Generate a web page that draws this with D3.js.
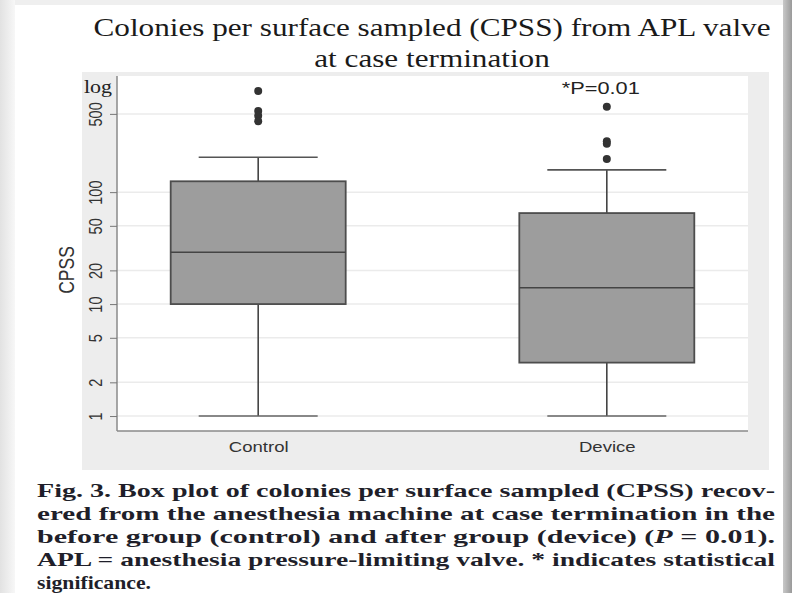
<!DOCTYPE html>
<html>
<head>
<meta charset="utf-8">
<script src="https://cdn.jsdelivr.net/npm/d3@7"></script>
<style>
  body { margin: 0; background: #ececec; }
  svg { display: block; }
</style>
</head>
<body>
<script>
// canvas
var width = 792;
var height = 593;

// data
var groups = ["Control", "Device"];
var whiskerLow = [1, 1];
var q1 = [10, 3];
var median = [29, 14];
var q3 = [125, 65];
var whiskerHigh = [205, 158];
var outliers = [
  [800, 530, 480, 430],
  [580, 285, 270, 198]
];
var yTicks = [1, 2, 5, 10, 20, 50, 100, 500];

var titleLines = ["Colonies per surface sampled (CPSS) from APL valve", "at case termination"];
var captionLines = [
  "Fig. 3. Box plot of colonies per surface sampled (CPSS) recov-",
  "ered from the anesthesia machine at case termination in the",
  "before group (control) and after group (device) (P = 0.01).",
  "APL = anesthesia pressure-limiting valve. * indicates statistical",
  "significance."
];

var plot = {left: 117, right: 748, top: 76, bottom: 431};
var sx = 1.28; // the source picture is stretched sideways
var sans = "Liberation Sans, Arial, sans-serif";
var serif = "Liberation Serif, Times New Roman, serif";

var svg = d3.select("body").append("svg")
  .attr("width", width)
  .attr("height", height);

// page / card look
var defs = svg.append("defs");
var lg = defs.append("linearGradient").attr("id", "shadeL");
lg.append("stop").attr("offset", "0").attr("stop-color", "#e2e2e2");
lg.append("stop").attr("offset", "1").attr("stop-color", "#f7f7f7");
var rg = defs.append("linearGradient").attr("id", "shadeR");
rg.append("stop").attr("offset", "0").attr("stop-color", "#c8c8c8");
rg.append("stop").attr("offset", "1").attr("stop-color", "#9a9a9a");

svg.append("rect").attr("width", width).attr("height", height).attr("fill", "#efefef");
svg.append("rect").attr("x", 0).attr("y", 0).attr("width", 15).attr("height", height).attr("fill", "url(#shadeL)");
svg.append("rect").attr("x", 783).attr("y", 0).attr("width", 9).attr("height", height).attr("fill", "url(#shadeR)");
svg.append("rect").attr("x", 15).attr("y", 5).attr("width", 768).attr("height", height - 5).attr("fill", "#fff");

// chart background
svg.append("rect").attr("x", 82).attr("y", 72).attr("width", 769 - 82).attr("height", 470 - 72).attr("fill", "#ededed");
svg.append("rect").attr("x", plot.left).attr("y", plot.top)
  .attr("width", plot.right - plot.left).attr("height", plot.bottom - plot.top).attr("fill", "#fff");

// scales
var y = d3.scaleLog().domain([0.735, 1090]).range([plot.bottom, plot.top]);
var x = d3.scalePoint().domain(groups).range([plot.left, plot.right]).padding(0.405);

// gridlines
svg.append("g").selectAll("line").data(yTicks).join("line")
  .attr("x1", plot.left).attr("x2", plot.right)
  .attr("y1", d => y(d)).attr("y2", d => y(d))
  .attr("stroke", "#ebebeb").attr("stroke-width", 1.5);

// y axis
var yAxis = d3.axisLeft(y).tickValues(yTicks).tickFormat(d3.format("d")).tickSize(7).tickPadding(4);
var gy = svg.append("g").attr("transform", `translate(${plot.left},0)`).call(yAxis);
gy.select(".domain").attr("stroke", "#8a8a8a").attr("stroke-width", 1.5)
  .attr("d", `M0,${plot.top}V${plot.bottom}`);
gy.selectAll(".tick line").attr("stroke", "#777");
gy.selectAll(".tick text")
  .attr("font-family", sans).attr("font-size", 14.5).attr("fill", "#333")
  .attr("x", 0).attr("dy", 0).attr("y", 0).attr("text-anchor", "middle")
  .attr("transform", `translate(-15,0) scale(${sx},1) rotate(-90)`);

// x axis
var xAxis = d3.axisBottom(x).tickSize(0).tickPadding(13);
var gx = svg.append("g").attr("transform", `translate(0,${plot.bottom})`).call(xAxis);
gx.select(".domain").attr("stroke", "#8a8a8a").attr("stroke-width", 1.5)
  .attr("d", `M${plot.left},0H${plot.right}`);
gx.selectAll(".tick text")
  .attr("font-family", sans).attr("font-size", 14.5).attr("fill", "#333")
  .attr("y", 0).attr("dy", 0)
  .attr("transform", `translate(0,21) scale(${sx},1)`);

// "log" note and axis title
svg.append("text").attr("transform", `translate(98,93) scale(1.22,1)`).attr("text-anchor", "middle")
  .attr("font-family", serif).attr("font-size", 18).attr("fill", "#222")
  .text("log");
svg.append("text").attr("transform", `translate(74,270) scale(${sx},1) rotate(-90)`).attr("text-anchor", "middle")
  .attr("font-family", sans).attr("font-size", 17.5).attr("fill", "#333")
  .text("CPSS");

// boxes
var boxW = 175, capW = 119;
var boxes = svg.append("g").selectAll("g").data(groups).join("g");

boxes.append("line")
  .attr("x1", d => x(d)).attr("x2", d => x(d))
  .attr("y1", (d, i) => y(whiskerHigh[i])).attr("y2", (d, i) => y(q3[i]))
  .attr("stroke", "#444").attr("stroke-width", 1.6);
boxes.append("line")
  .attr("x1", d => x(d)).attr("x2", d => x(d))
  .attr("y1", (d, i) => y(q1[i])).attr("y2", (d, i) => y(whiskerLow[i]))
  .attr("stroke", "#444").attr("stroke-width", 1.6);
boxes.append("line")
  .attr("x1", d => x(d) - capW / 2).attr("x2", d => x(d) + capW / 2)
  .attr("y1", (d, i) => y(whiskerHigh[i])).attr("y2", (d, i) => y(whiskerHigh[i]))
  .attr("stroke", "#555").attr("stroke-width", 1.6);
boxes.append("line")
  .attr("x1", d => x(d) - capW / 2).attr("x2", d => x(d) + capW / 2)
  .attr("y1", (d, i) => y(whiskerLow[i])).attr("y2", (d, i) => y(whiskerLow[i]))
  .attr("stroke", "#666").attr("stroke-width", 1.6);
boxes.append("rect")
  .attr("x", d => x(d) - boxW / 2).attr("width", boxW)
  .attr("y", (d, i) => y(q3[i])).attr("height", (d, i) => y(q1[i]) - y(q3[i]))
  .attr("fill", "#9d9d9d").attr("stroke", "#4d4d4d").attr("stroke-width", 1.8);
boxes.append("line")
  .attr("x1", d => x(d) - boxW / 2).attr("x2", d => x(d) + boxW / 2)
  .attr("y1", (d, i) => y(median[i])).attr("y2", (d, i) => y(median[i]))
  .attr("stroke", "#444").attr("stroke-width", 1.6);

// outliers
boxes.each(function (d, i) {
  d3.select(this).selectAll("circle").data(outliers[i]).join("circle")
    .attr("cx", x(d)).attr("cy", v => y(v)).attr("r", 4).attr("fill", "#333");
});

// significance note
svg.append("text").attr("transform", `translate(${x("Device") - 6},94) scale(${sx},1)`).attr("text-anchor", "middle")
  .attr("font-family", sans).attr("font-size", 17).attr("fill", "#222")
  .text("*P=0.01");

// title
svg.append("g").selectAll("text").data(titleLines).join("text")
  .attr("transform", (d, i) => `translate(432,${36 + i * 31}) scale(1.2,1)`).attr("text-anchor", "middle")
  .attr("font-family", serif).attr("font-size", 26).attr("fill", "#1a1a1a")
  .text(d => d);

// caption (justified, glyphs widened like the source)
var cap = svg.append("g").attr("font-family", serif)
  .attr("font-weight", "bold").attr("font-size", 19.5).attr("fill", "#1f1f2a");
captionLines.forEach(function (line, i) {
  var t = cap.append("text").attr("x", 37).attr("y", 497 + i * 23)
    .attr("lengthAdjust", "spacingAndGlyphs")
    .attr("textLength", i < captionLines.length - 1 ? 738 : 114);
  if (line.indexOf("(P =") >= 0) {
    var parts = line.split("P =");
    t.append("tspan").text(parts[0]);
    t.append("tspan").attr("font-style", "italic").text("P");
    t.append("tspan").text(" =" + parts[1]);
  } else {
    t.text(line);
  }
});
</script>
</body>
</html>
